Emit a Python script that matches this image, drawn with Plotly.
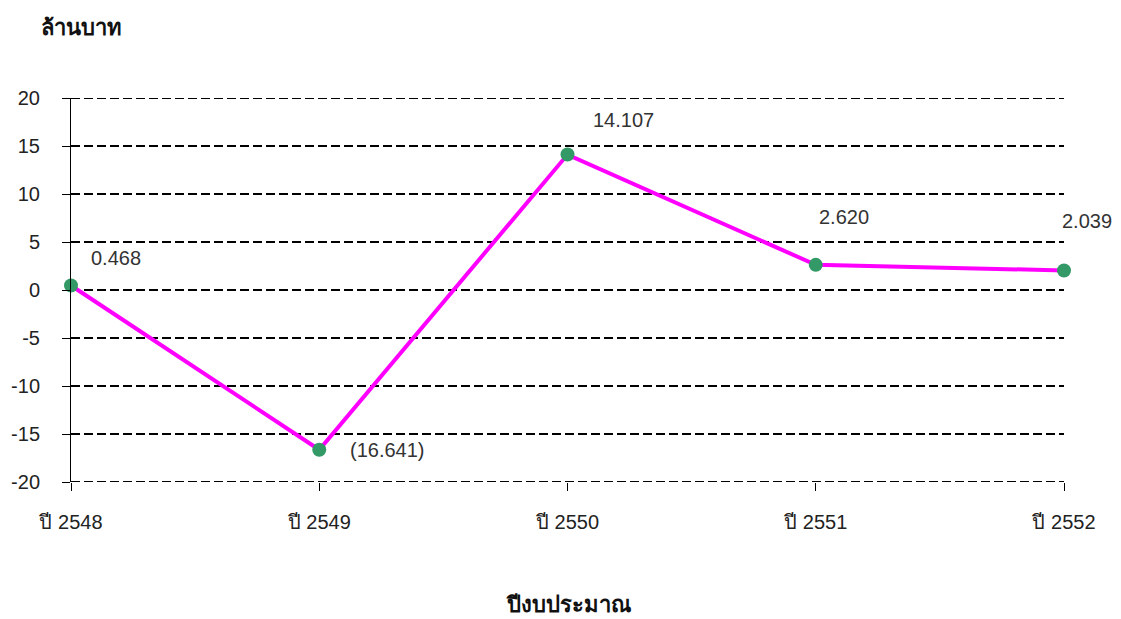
import plotly.graph_objects as go

years = ["ปี 2548", "ปี 2549", "ปี 2550", "ปี 2551", "ปี 2552"]
values = [0.468, -16.641, 14.107, 2.620, 2.039]
labels = ["0.468", "(16.641)", "14.107", "2.620", "2.039"]
y_ticks = [20, 15, 10, 5, 0, -5, -10, -15, -20]
y_ticktext = ["20", "15", "10", "5", "0", "-5", "-10", "-15", "-20"]

# label offsets (pixels) relative to each point
label_dx = [18, 29, 23, 1, -4]
label_dy = [28, 0, 35, 48, 49]

FONT = "Liberation Sans, Noto Sans, sans-serif"
GRID = dict(color="black", width=2, dash="9px,4px")

OFF = 8  # page body margin
W, H = 1121 - OFF, 619 - OFF
L, T = 71 - OFF, 98 - OFF
R = W - (1064 - OFF)
B = H - (482 - OFF)
PW, PH = W - L - R, H - T - B

fig = go.Figure()

# gridlines at range edges (plotly hides them at the edges)
for yv in (y_ticks[0], y_ticks[-1]):
    fig.add_shape(type="line", xref="paper", yref="y", x0=0, x1=1, y0=yv, y1=yv,
                  line=GRID, layer="below")

fig.add_trace(go.Scatter(
    x=list(range(len(years))), y=values, mode="lines+markers",
    line=dict(color="#FF00FF", width=4),
    marker=dict(color="#339966", size=14),
    cliponaxis=False, showlegend=False,
))

for i, (v, t) in enumerate(zip(values, labels)):
    fig.add_annotation(x=i, y=v, text=t, showarrow=False, xanchor="left",
                       yanchor="middle", xshift=label_dx[i], yshift=label_dy[i],
                       font=dict(family=FONT, size=20, color="#333333"))

def px(xs):
    return (xs - OFF - L) / PW

def py(ys):
    return (H - B - (ys - OFF)) / PH

fig.add_annotation(text="<b>ล้านบาท</b>", xref="paper", yref="paper",
                   x=px(81), y=py(28), xanchor="center", yanchor="middle",
                   showarrow=False, font=dict(family=FONT, size=22, color="#111111"))
fig.add_annotation(text="<b>ปีงบประมาณ</b>", xref="paper", yref="paper",
                   x=px(568), y=py(604), xanchor="center", yanchor="middle",
                   showarrow=False, font=dict(family=FONT, size=22, color="#111111"))

fig.update_layout(
    width=W, height=H,
    margin=dict(l=L, r=R, t=T, b=B, autoexpand=False),
    plot_bgcolor="white", paper_bgcolor="white",
    font=dict(family=FONT, size=20, color="#222222"),
    xaxis=dict(
        range=[0, len(years) - 1],
        tickmode="array", tickvals=list(range(len(years))), ticktext=years,
        showgrid=False, zeroline=False, showline=False,
        ticks="outside", ticklen=8, tickcolor="black", tickwidth=1,
        ticklabelstandoff=14,
    ),
    yaxis=dict(
        range=[-20, 20], tickmode="array", tickvals=y_ticks, ticktext=y_ticktext,
        showgrid=True, gridcolor="black", gridwidth=2, griddash="9px,4px",
        zeroline=False, showline=True, linecolor="black", linewidth=1,
        ticks="outside", ticklen=8, tickcolor="black", tickwidth=1,
        ticklabelstandoff=18,
    ),
)

fig.write_html("out.html")
